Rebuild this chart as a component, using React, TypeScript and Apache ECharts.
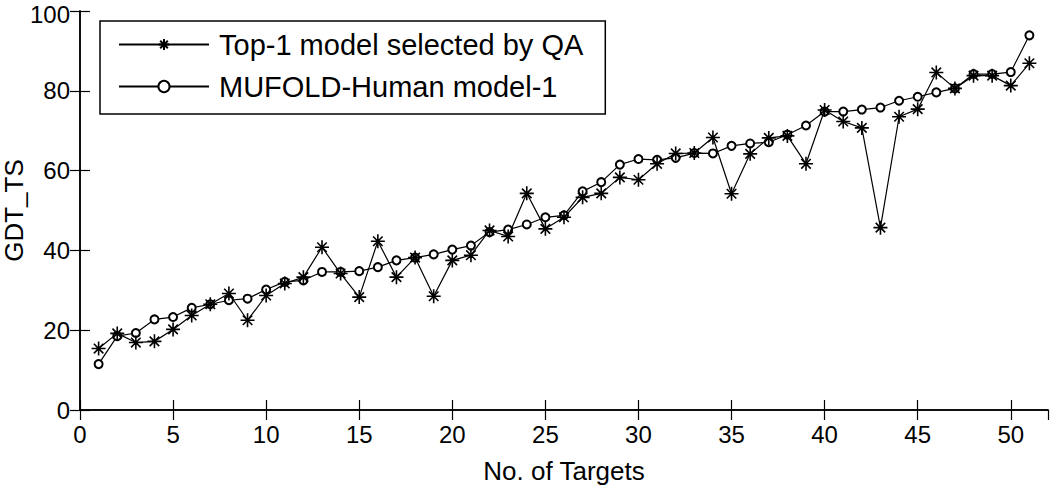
import React, { useEffect, useRef } from "react";
import * as echarts from "echarts";

const targets = [
  1, 2, 3, 4, 5, 6, 7, 8, 9, 10, 11, 12, 13, 14, 15, 16, 17, 18, 19, 20, 21, 22, 23, 24, 25,
  26, 27, 28, 29, 30, 31, 32, 33, 34, 35, 36, 37, 38, 39, 40, 41, 42, 43, 44, 45, 46, 47, 48,
  49, 50, 51,
];

const top1QA = [
  15.4, 19.2, 16.9, 17.2, 20.2, 23.7, 26.5, 29.2, 22.5, 28.7, 31.7, 33.3, 40.8, 34.2, 28.3,
  42.3, 33.3, 38.2, 28.5, 37.5, 38.8, 45.0, 43.5, 54.3, 45.4, 48.3, 53.3, 54.3, 58.3, 57.7,
  61.7, 64.3, 64.4, 68.3, 54.2, 64.2, 68.2, 68.7, 61.7, 75.2, 72.3, 70.7, 45.7, 73.5, 75.4,
  84.6, 80.6, 83.8, 83.8, 81.3, 86.9,
];

const mufoldHuman = [
  11.5, 18.5, 19.3, 22.7, 23.3, 25.6, 26.5, 27.5, 27.9, 30.2, 32.1, 32.5, 34.6, 34.6, 34.8,
  35.8, 37.5, 38.2, 39.0, 40.2, 41.2, 44.6, 45.2, 46.5, 48.3, 48.8, 54.8, 57.1, 61.5, 62.9,
  62.7, 63.2, 64.4, 64.3, 66.2, 66.8, 67.1, 69.0, 71.3, 74.8, 74.8, 75.3, 75.8, 77.5, 78.5,
  79.6, 80.6, 84.2, 84.2, 84.7, 93.9,
];

const seriesNames = ["Top-1 model selected by QA", "MUFOLD-Human model-1"];
const xTitle = "No. of Targets";
const yTitle = "GDT_TS";
const Y_MAX = 100;

const FONT = "'Liberation Sans', Arial, Helvetica, sans-serif";
const STAR = "path://M5,0 L5,10 M0,5 L10,5 M1.6,1.6 L8.4,8.4 M1.6,8.4 L8.4,1.6";

export default function App() {
  const ref = useRef<HTMLDivElement>(null);

  useEffect(() => {
    if (!ref.current) return;
    const chart = echarts.init(ref.current, null, { renderer: "svg" });
    const axisLine = { show: true, lineStyle: { color: "#000", width: 1.5 } };
    const tick = { show: true, inside: true, length: 10, lineStyle: { color: "#000", width: 1.2 } };
    const label = { color: "#000", fontSize: 24, fontFamily: FONT };
    chart.setOption({
      animation: false,
      backgroundColor: "#fff",
      grid: {
        left: 80,
        right: 2,
        top: 11,
        bottom: 79,
        containLabel: false,
        outerBoundsMode: "none",
      },
      legend: {
        left: 100,
        top: 21,
        orient: "vertical",
        backgroundColor: "#fff",
        borderColor: "#000",
        borderWidth: 1.5,
        borderRadius: 0,
        padding: [9, 22, 13, 18],
        itemGap: 13,
        itemWidth: 90,
        itemHeight: 14,
        textStyle: { color: "#000", fontSize: 29, fontFamily: FONT, padding: [0, 0, 0, 5] },
        data: seriesNames,
      },
      xAxis: [
        {
          type: "value",
          min: 0,
          max: 52,
          interval: 5,
          position: "bottom",
          axisLine,
          axisTick: tick,
          splitLine: { show: false },
          axisLabel: { ...label, margin: 12, showMaxLabel: false },
          name: xTitle,
          nameLocation: "middle",
          nameGap: 48,
          nameMoveOverlap: false,
          nameTextStyle: { color: "#000", fontSize: 26, fontFamily: FONT },
        },
        {
          type: "value",
          min: 0,
          max: 52,
          interval: 5,
          position: "top",
          axisLine,
          axisTick: tick,
          splitLine: { show: false },
          axisLabel: { show: false },
        },
      ],
      yAxis: [
        {
          type: "value",
          min: 0,
          max: Y_MAX,
          interval: 20,
          position: "left",
          axisLine,
          axisTick: tick,
          splitLine: { show: false },
          axisLabel: {
            ...label,
            margin: 10,
            formatter: (v: number) => (v === Y_MAX ? `{t|${v}}` : `${v}`),
            rich: { t: { fontSize: 24, fontFamily: FONT, color: "#000", padding: [6, 0, 0, 0] } },
          },
          name: yTitle,
          nameLocation: "middle",
          nameGap: 53,
          nameMoveOverlap: false,
          nameTextStyle: { color: "#000", fontSize: 26, fontFamily: FONT },
        },
        {
          type: "value",
          min: 0,
          max: Y_MAX,
          interval: 20,
          position: "right",
          axisLine,
          axisTick: tick,
          splitLine: { show: false },
          axisLabel: { show: false },
        },
      ],
      series: [
        {
          name: seriesNames[0],
          type: "line",
          data: targets.map((t, i) => [t, top1QA[i]]),
          symbol: STAR,
          symbolSize: 14,
          showAllSymbol: true,
          lineStyle: { color: "#000", width: 1.2 },
          itemStyle: { color: "#000", borderColor: "#000", borderWidth: 1.6 },
          z: 3,
        },
        {
          name: seriesNames[1],
          type: "line",
          data: targets.map((t, i) => [t, mufoldHuman[i]]),
          symbol: "emptyCircle",
          symbolSize: 8,
          showAllSymbol: true,
          lineStyle: { color: "#000", width: 1.2 },
          itemStyle: { color: "#000", borderColor: "#000", borderWidth: 1.2 },
          z: 2,
        },
      ],
    });
    return () => chart.dispose();
  }, []);

  return (
    <div
      ref={ref}
      style={{ position: "fixed", left: 0, top: 0, width: 1050, height: 489, background: "#fff" }}
    />
  );
}
